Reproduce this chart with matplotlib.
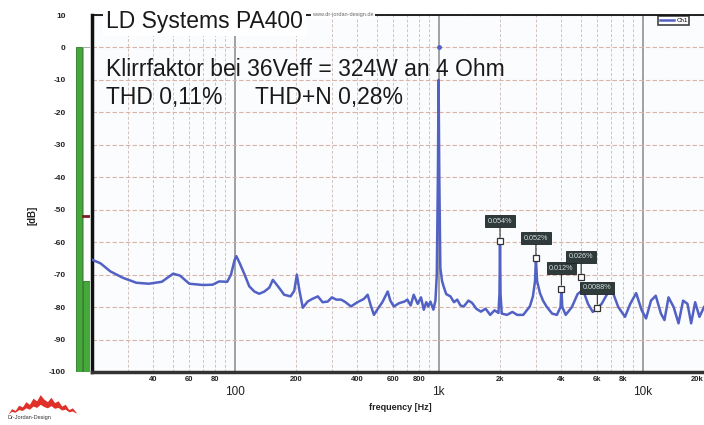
import matplotlib
matplotlib.use("Agg")
import matplotlib.pyplot as plt
from matplotlib.ticker import FixedLocator, FixedFormatter

plt.rcParams['font.family'] = ['Liberation Sans', 'DejaVu Sans']
plt.rcParams['axes.unicode_minus'] = False

# Spektrum (Frequenz in Hz, Pegel in dB)
freq = [20, 22, 24.6, 28.4, 33, 38, 44, 48, 50, 54, 60, 70, 78, 84, 92, 96, 100, 102, 106,
        112, 118, 125, 132, 140, 148, 154, 165, 175, 188, 196, 202, 208, 216, 228, 240,
        256, 270, 286, 300, 315, 333, 350, 372, 400, 430, 449, 465, 482, 510, 530, 545,
        563, 580, 603, 640, 680, 703, 730, 755, 790, 820, 846, 870, 890, 912, 943, 965,
        980, 992, 1000, 1008, 1020, 1040, 1058, 1090, 1143, 1190, 1234, 1280, 1330, 1400,
        1460, 1530, 1612, 1700, 1790, 1880, 1965, 1988, 2000, 2012, 2040, 2163, 2300,
        2430, 2600, 2800, 2900, 2970, 3000, 3040, 3140, 3250, 3380, 3600, 3800, 3960,
        4000, 4040, 4200, 4500, 4800, 5100, 5400, 5700, 6000, 6300, 6700, 7100, 7600,
        8200, 8700, 9300, 9900, 10400, 11000, 11600, 12300, 12800, 13400, 14200, 15000,
        15800, 16600, 17300, 18100, 19000, 20000]
level = [-65.4, -66.5, -69.0, -71.0, -72.5, -72.8, -72.2, -70.5, -69.7, -70.3, -72.8, -73.2,
         -73.1, -72.1, -72.2, -70.0, -65.5, -64.3, -66.5, -70.0, -73.6, -75.2, -75.9, -75.2,
         -74.0, -71.6, -74.0, -76.2, -76.7, -75.0, -70.0, -75.0, -80.2, -78.3, -77.5, -76.7,
         -78.5, -78.3, -77.0, -77.7, -77.7, -78.5, -79.8, -78.5, -77.5, -76.2, -79.5, -82.4,
         -80.0, -78.5, -77.0, -75.2, -78.0, -79.8, -78.8, -78.3, -77.7, -79.5, -76.2, -79.0,
         -77.0, -80.8, -78.5, -79.8, -78.3, -80.8, -78.0, -70.0, -40.0, -10.0, -40.0, -68.0,
         -72.0, -73.6, -76.0, -76.7, -78.5, -77.7, -79.5, -79.8, -78.0, -78.7, -80.5, -81.4,
         -80.5, -82.4, -81.0, -81.8, -76.0, -59.7, -76.0, -82.0, -82.4, -81.5, -82.4, -82.4,
         -79.8, -76.7, -72.0, -65.0, -72.0, -75.7, -78.0, -79.8, -82.0, -82.4, -80.0, -74.3,
         -80.0, -82.4, -80.0, -76.0, -74.7, -79.0, -81.5, -80.2, -79.0, -76.0, -75.0, -80.0,
         -83.0, -79.0, -75.7, -81.0, -83.5, -78.0, -76.5, -82.0, -84.0, -77.0, -80.0, -85.0,
         -78.0, -79.0, -85.0, -78.5, -83.0, -80.0]

# Oberwellen-Marker
harm_freq = [2000, 3000, 4000, 5000, 6000]
harm_db = [-59.7, -65.0, -74.3, -70.7, -80.2]
harm_label = ['0.054%', '0.052%', '0.012%', '0.026%', '0.0088%']

# Pegelanzeige links
meter_level = [0, -72]
meter_hold = -52

major_ticks = [100, 1000, 10000]
major_labels = ['100', '1k', '10k']
minor_label_map = {40: '40', 60: '60', 80: '80', 200: '200', 400: '400', 600: '600',
                   800: '800', 2000: '2k', 4000: '4k', 6000: '6k', 8000: '8k', 20000: '20k'}
y_ticks = list(range(-100, 11, 10))

logo_profile = [0, 1.2, 0.8, 2.0, 1.6, 2.8, 2.2, 3.6, 3.0, 4.4, 3.4, 2.8, 3.8, 2.6, 3.0, 1.8, 2.2, 1.0, 1.4, 0.4]

fig = plt.figure(figsize=(7.04, 4.25), dpi=100)
fig.patch.set_facecolor('white')

W, H = 704, 425
ax_bottom = 1 - 372 / H
ax_top = 1 - 15 / H
ax = fig.add_axes([92 / W, ax_bottom, 1 - 92 / W, ax_top - ax_bottom])
ax.set_facecolor('#fbfcfe')

ax.plot(freq, level, color='#5261c4', lw=1.8, zorder=3)
ax.plot([1000], [0], marker='o', ms=2.5, color='#5261c4', zorder=3)
ax.plot(harm_freq, harm_db, ls='none', marker='s', ms=4.5, mfc='white', mec='#333333', mew=0.9, zorder=5)
for f, d, lab in zip(harm_freq, harm_db, harm_label):
    ax.annotate(lab, xy=(f, d), xytext=(0, 14.5), textcoords='offset points',
                ha='center', va='center', fontsize=5.2, color='#d6dede', zorder=6,
                bbox=dict(boxstyle='square,pad=0.35', fc='#2f3a3a', ec='#1e2525', lw=0.6),
                arrowprops=dict(arrowstyle='-', color='#333333', lw=0.8, shrinkA=0, shrinkB=2.5))

ax.set_xscale('log')
ax.set_xlim(20, 20000)
ax.set_ylim(-100, 10)

# Achsen und Gitter
all_minor = [d * m for d in (10, 100, 1000, 10000) for m in range(2, 10) if 20 < d * m <= 20000]
ax.xaxis.set_major_locator(FixedLocator(major_ticks))
ax.xaxis.set_major_formatter(FixedFormatter(major_labels))
ax.xaxis.set_minor_locator(FixedLocator(all_minor))
ax.xaxis.set_minor_formatter(FixedFormatter([minor_label_map.get(v, '') for v in all_minor]))
ax.set_yticks(y_ticks)
ax.set_yticklabels([str(v) for v in y_ticks])

ax.tick_params(axis='x', which='major', length=0, pad=10, labelsize=8.5, labelcolor='#222222')
ax.tick_params(axis='x', which='minor', length=0, pad=3, labelsize=5.5, labelcolor='#222222')
minor_ticks = ax.xaxis.get_minor_ticks()
for t in minor_ticks:
    t.label1.set_fontweight('bold')
minor_ticks[-1].label1.set_horizontalalignment('right')
ax.tick_params(axis='y', length=0, pad=19, labelsize=6, labelcolor='#222222')
for t in ax.get_yticklabels():
    t.set_fontweight('bold')

ax.grid(True, which='major', axis='x', color='#9a9a9a', lw=1.3, ls='-', zorder=1)
ax.grid(True, which='minor', axis='x', color='#d2c3bf', lw=0.7, ls=(0, (3, 2)), zorder=1)
ax.grid(True, which='major', axis='y', color='#d9b3a5', lw=0.8, ls=(0, (4, 2)), zorder=1)
ax.set_axisbelow(True)

ax.spines['left'].set_linewidth(2.5)
ax.spines['left'].set_color('#111111')
ax.spines['bottom'].set_linewidth(2.5)
ax.spines['bottom'].set_color('#333333')
ax.spines['top'].set_linewidth(1.3)
ax.spines['top'].set_color('#111111')
ax.spines['right'].set_visible(False)

leg = ax.legend(['Ch1'], loc='upper left', bbox_to_anchor=(0.925, 0.997), fontsize=4.5,
                frameon=True, fancybox=False, handlelength=2.2, handletextpad=0.4,
                borderpad=0.3, borderaxespad=0)
leg.get_frame().set_edgecolor('#111111')
leg.get_frame().set_linewidth(1.2)

# Pegelanzeige
mx = fig.add_axes([76 / W, ax_bottom, 14 / W, ax_top - ax_bottom])
mx.set_xlim(0, 2)
mx.set_ylim(-100, 10)
mx.axis('off')
mx.bar([1.5], [0 - (-100)], bottom=-100, width=0.95, color='white', edgecolor='#888888', lw=0.5)
mx.bar([0.45, 1.5], [v + 100 for v in meter_level], bottom=-100, width=[0.85, 0.95],
       color='#45a83a', edgecolor='#2c7a24', lw=0.6)
mx.plot([1.05, 1.95], [meter_hold, meter_hold], color='#7a2020', lw=2)

# Texte
tx = 106 / W
fig.text(tx, 1 - 28 / H, 'LD Systems PA400', fontsize=16.5, color='#1a1a1a', va='baseline',
         bbox=dict(fc='white', ec='none', pad=2))
fig.text(312 / W, 1 - 16 / H, 'www.dr-jordan-design.de', fontsize=4, color='#666666', va='baseline',
         bbox=dict(fc='white', ec='none', pad=1))
fig.text(tx, 1 - 76 / H, 'Klirrfaktor bei 36Veff = 324W an 4 Ohm', fontsize=16.5, color='#1a1a1a', va='baseline')
fig.text(tx, 1 - 104 / H, 'THD 0,11%', fontsize=16.5, color='#1a1a1a', va='baseline')
fig.text(255 / W, 1 - 104 / H, 'THD+N 0,28%', fontsize=16.5, color='#1a1a1a', va='baseline')

fig.text(400 / W, 1 - 408 / H, 'frequency [Hz]', fontsize=6.5, fontweight='bold', ha='center', va='center', color='#222222')
fig.text(33 / W, 1 - 215 / H, '[dB]', fontsize=7, fontweight='bold', rotation=90, ha='center', va='center', color='#222222')

# Logo
lg = fig.add_axes([8 / W, 1 - 414 / H, 68 / W, 22 / H])
lg.fill_between(range(len(logo_profile)), [v * 0.5 for v in logo_profile], logo_profile,
                color='#e0302a', lw=0)
lg.set_xlim(0, len(logo_profile) - 1)
lg.set_ylim(0, 5)
lg.axis('off')
fig.text(8 / W, 1 - 418 / H, 'Dr-Jordan-Design', fontsize=4, color='#333333', va='center')

fig.savefig('out.png', dpi=100)
